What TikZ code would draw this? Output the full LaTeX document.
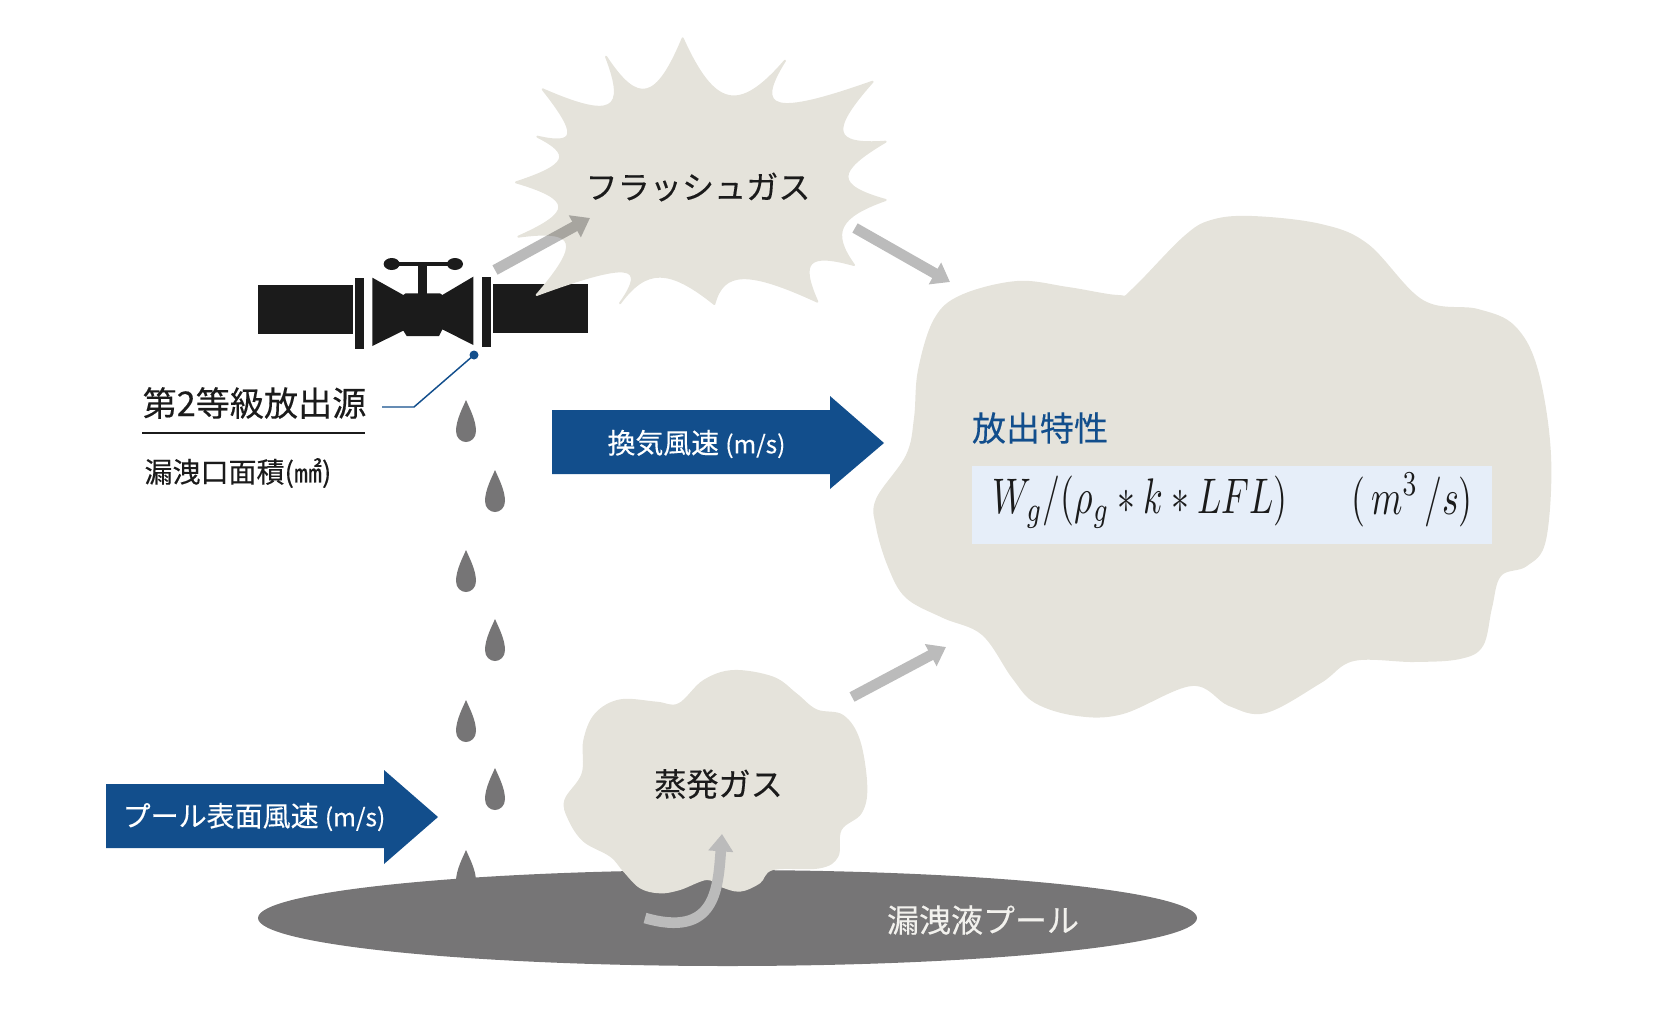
\documentclass[tikz,border=0pt]{standalone}
\usepackage{fontspec}
\usepackage{graphicx}
\setmainfont{Noto Sans CJK JP}[FakeBold=0.25]
\usetikzlibrary{arrows.meta}
\definecolor{gasfill}{HTML}{E5E3DB}
\definecolor{windblue}{HTML}{124E8C}
\definecolor{poolgray}{HTML}{767576}
\definecolor{valveblack}{HTML}{1B1B1B}
\definecolor{flowgray}{HTML}{BBBBBB}
\definecolor{formulabg}{HTML}{E6EEF9}
\tikzset{
	gas/.style={fill=gasfill},
	flow/.style={draw=flowgray,line width=8pt,-{Triangle[length=13pt,width=18pt]}},
	wind/.style={fill=windblue},
	txt/.style={inner sep=0pt,text=valveblack},
	drop/.pic={\fill[poolgray] (0,0) .. controls (3,7) and (10,20) .. (10,31) .. controls (10,38) and (5,42) .. (0,42) .. controls (-5,42) and (-10,38) .. (-10,31) .. controls (-10,20) and (-3,7) .. (0,0);}
}
\newcommand{\fs}[1]{\fontsize{#1}{#1}\selectfont}
\begin{document}
\begin{tikzpicture}[x=0.75pt,y=-0.75pt]

	\useasboundingbox (0,0) rectangle (1660,1028);

	\pic at (466,400) {drop};
	\pic at (495,470) {drop};
	\pic at (466,550) {drop};
	\pic at (495,619) {drop};
	\pic at (466,700) {drop};
	\pic at (495,768) {drop};
	\pic at (466,850) {drop};

	\begin{scope}[shift={(240,240)},scale=1/3,fill=valveblack]
		\fill (55,135) rectangle (338,282);
		\fill (345,113) rectangle (372,326);
		\fill (726,110) rectangle (753,322);
		\fill (760,132) rectangle (1044,278);
		\fill (397,113) -- (490,165) -- (497,160) -- (600,160) -- (607,165) -- (700,110) -- (700,315) -- (607,268) -- (597,288) -- (500,288) -- (490,272) -- (397,318) -- cycle;
		\fill (533,70) rectangle (560,165);
		\fill (450,66) rectangle (650,78);
		\fill (455,72) ellipse [x radius=24,y radius=18];
		\fill (645,72) ellipse [x radius=24,y radius=18];
	\end{scope}

	\fill[poolgray] (727.5,918) ellipse [x radius=469.5,y radius=48];

	\begin{scope}[shift={(500,20)},scale=1/3]
		\path[gas,draw=gasfill,line width=1.5pt,line join=round] (548,55)
			\foreach \ax/\ay/\cx/\cy/\bx/\by in {
				548/55/680/274/855/122,
				855/122/791/282/1118/185,
				1118/185/991/355/1157/365,
				1157/365/1004/476/1157/540,
				1157/540/1003/614/1062/735,
				1062/735/911/710/952/845,
				952/845/707/750/643/852,
				643/852/473/743/360/850,
				360/850/415/727/110/825,
				110/825/239/647/55/650,
				55/650/220/557/48/487,
				48/487/211/420/112/350,
				112/350/233/360/128/208,
				128/208/359/287/318/110,
				318/110/442/250/548/55}
			{ .. controls (\cx+0.12*\ax-0.12*\bx,\cy+0.12*\ay-0.12*\by) and (\cx-0.12*\ax+0.12*\bx,\cy-0.12*\ay+0.12*\by) .. (\bx,\by) } -- cycle;
	\end{scope}

	\path[gas] plot[smooth cycle,tension=0.6] coordinates {(1252,216) (1321,224) (1368,244) (1423,300) (1478,309) (1515,326) (1538,370) (1551,455) (1546,540) (1527,566) (1501,576) (1492,608) (1483,646) (1460,659) (1414,662) (1354,661) (1321,683) (1266,713) (1229,706) (1192,686) (1123,714) (1077,716) (1035,703) (1012,678) (982,635) (943,618) (906,598) (888,567) (876,527) (876,499) (906,455) (914,418) (918,370) (934,319) (961,295) (1017,281) (1068,287) (1118,295) (1132,289) (1183,237) (1211,220)};

	\begin{scope}[shift={(440,660)},scale=1/3]
		\path[gas] plot[smooth cycle,tension=0.6] coordinates {(880,30) (1000,50) (1070,100) (1130,148) (1210,165) (1260,240) (1282,380) (1265,460) (1205,510) (1195,590) (1140,625) (1000,630) (960,670) (900,695) (840,680) (800,660) (720,690) (660,700) (600,685) (550,635) (510,590) (430,545) (385,480) (373,420) (425,340) (430,240) (465,160) (540,118) (650,125) (715,130) (790,60)};
	\end{scope}

	\coordinate (a0) at (495,270);
	\coordinate (a1) at (590,218);
	\coordinate (b0) at (855,228);
	\coordinate (b1) at (950,282);
	\coordinate (c0) at (852,697);
	\coordinate (c1) at (946,647);
	\coordinate (d0) at (645,918);
	\coordinate (d1) at (722,834);
	\begin{scope}[transparency group,opacity=0.27]
		\draw[flow,draw=black,fill=black] (a0) -- (a1);
	\end{scope}
	\draw[flow] (b0) -- (b1);
	\draw[flow] (c0) -- (c1);
	\draw[flow] (d0) .. controls (715,938) and (718,890) .. (d1);

	\fill[wind] (552,410) -- (830,410) -- (830,396) -- (884,443) -- (830,489) -- (830,474) -- (552,474) -- cycle;
	\fill[wind] (106,784) -- (384,784) -- (384,770) -- (438,817) -- (384,864) -- (384,848) -- (106,848) -- cycle;

	\fill[formulabg] (972,466) rectangle (1492,544);

	\node[txt,text=white] (vent) at (696.5,444) {\fs{20.9}換気風速 {\fs{18.3}(m/s)}};
	\node[txt,text=white] (surf) at (254,817) {\fs{21}プール表面風速 {\fs{18.4}(m/s)}};
	\node[txt] (flash) at (698,187) {\fs{24.1}フラッシュガス};
	\node[txt] (vapor) at (718.5,784) {\fs{24.1}蒸発ガス};
	\node[txt,text=white!50!gasfill] (pool) at (983,920) {\fs{24}漏洩液プール};
	\node[txt,text=windblue] (prop) at (1040,428) {\fs{25.5}放出特性};
	\node[txt] (src) at (254.5,403) {\fs{25.6}第2等級放出源};
	\node[txt] (area) at (238,473) {\fs{21}漏洩口面積(㎟)};
	\node[txt] (rate) at (1140,502) {\scalebox{2.68}[3.75]{$W_g/(\rho_g*k*LFL)$}};
	\node[txt] (unit) at (1412,500) {\scalebox{2.68}[3.75]{$(\,m^3\,/s)$}};

	\draw[line width=1.5pt,valveblack] (142,433) -- (365,433);

	\coordinate (leak) at (474,355);
	\coordinate (elbow) at (414,407);
	\coordinate (leadend) at (382,407);
	\fill[windblue] (leak) circle [radius=4.5];
	\draw[windblue,line width=1.1pt] (leak) -- (elbow) -- (leadend);

\end{tikzpicture}
\end{document}
